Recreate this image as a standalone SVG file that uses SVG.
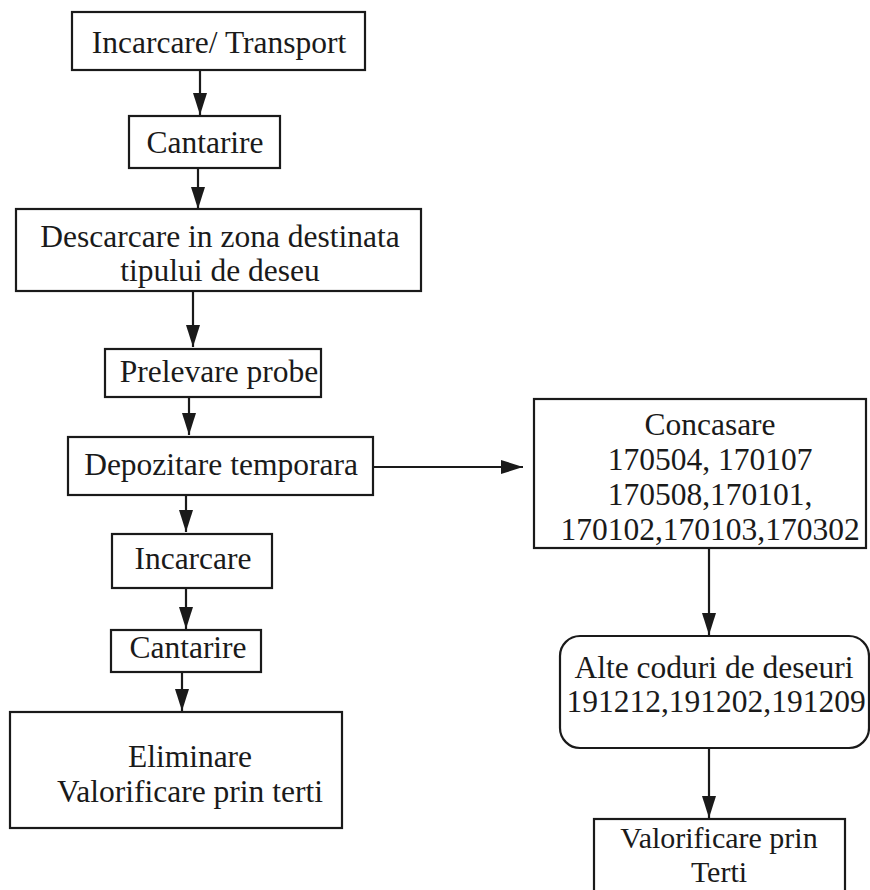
<svg xmlns="http://www.w3.org/2000/svg" width="870" height="890" viewBox="0 0 870 890">
<defs>
<style>
.box{fill:#fff;stroke:#1a1a1a;stroke-width:2.2}
.t{font-family:"Liberation Serif","Times New Roman",serif;font-size:31.5px;fill:#1a1a1a;text-anchor:middle}
.s{font-size:30px}
.c{stroke:#1a1a1a;stroke-width:2.2;fill:none}
</style>
<marker id="ah" markerUnits="userSpaceOnUse" markerWidth="24" markerHeight="16" refX="22" refY="7" orient="auto">
<path d="M0,0 L22,7 L0,14 z" fill="#1a1a1a"/>
</marker>
</defs>
<rect width="870" height="890" fill="#fff"/>
<g id="connectors">
<line class="c" x1="200" y1="70" x2="200" y2="115" marker-end="url(#ah)"/>
<line class="c" x1="198" y1="168" x2="198" y2="209" marker-end="url(#ah)"/>
<line class="c" x1="193" y1="291" x2="193" y2="347" marker-end="url(#ah)"/>
<line class="c" x1="189" y1="397" x2="189" y2="435" marker-end="url(#ah)"/>
<line class="c" x1="373" y1="467" x2="523" y2="467" marker-end="url(#ah)"/>
<line class="c" x1="186" y1="495" x2="186" y2="532" marker-end="url(#ah)"/>
<line class="c" x1="186" y1="588" x2="186" y2="629" marker-end="url(#ah)"/>
<line class="c" x1="182" y1="672" x2="182" y2="711" marker-end="url(#ah)"/>
<line class="c" x1="709" y1="548" x2="709" y2="635" marker-end="url(#ah)"/>
<line class="c" x1="709" y1="748" x2="709" y2="818" marker-end="url(#ah)"/>
</g>
<g id="n1"><rect class="box" x="72" y="12" width="293" height="58"/><text class="t" x="219" y="53">Incarcare/ Transport</text></g>
<g id="n2"><rect class="box" x="129" y="116" width="151" height="52"/><text class="t" x="205" y="153">Cantarire</text></g>
<g id="n3"><rect class="box" x="16" y="209" width="405" height="82"/><text class="t" x="220" y="247">Descarcare in zona destinata</text><text class="t" x="220" y="281">tipului de deseu</text></g>
<g id="n4"><rect class="box" x="105" y="349" width="216" height="48"/><text class="t" x="219" y="382">Prelevare probe</text></g>
<g id="n5"><rect class="box" x="68" y="437" width="305" height="58"/><text class="t" x="221" y="475">Depozitare temporara</text></g>
<g id="n6"><rect class="box" x="112" y="534" width="160" height="54"/><text class="t" x="193" y="569">Incarcare</text></g>
<g id="n7"><rect class="box" x="111" y="630" width="150" height="42"/><text class="t" x="188" y="658">Cantarire</text></g>
<g id="n8"><rect class="box" x="10" y="712" width="332" height="116"/><text class="t" x="190" y="767">Eliminare</text><text class="t" x="190" y="802">Valorificare prin terti</text></g>
<g id="n9"><rect class="box" x="534" y="399" width="332" height="149"/><text class="t" x="710" y="435">Concasare</text><text class="t" x="710" y="470">170504, 170107</text><text class="t" x="710" y="505">170508,170101,</text><text class="t" x="710" y="540">170102,170103,170302</text></g>
<g id="n10"><rect class="box" x="560" y="636" width="309" height="112" rx="20" ry="20"/><text class="t" x="714" y="678">Alte coduri de deseuri</text><text class="t" x="716" y="712">191212,191202,191209</text></g>
<g id="n11"><rect class="box" x="594" y="819" width="251" height="90"/><text class="t s" x="719" y="848">Valorificare prin</text><text class="t s" x="719" y="882">Terti</text></g>
</svg>
